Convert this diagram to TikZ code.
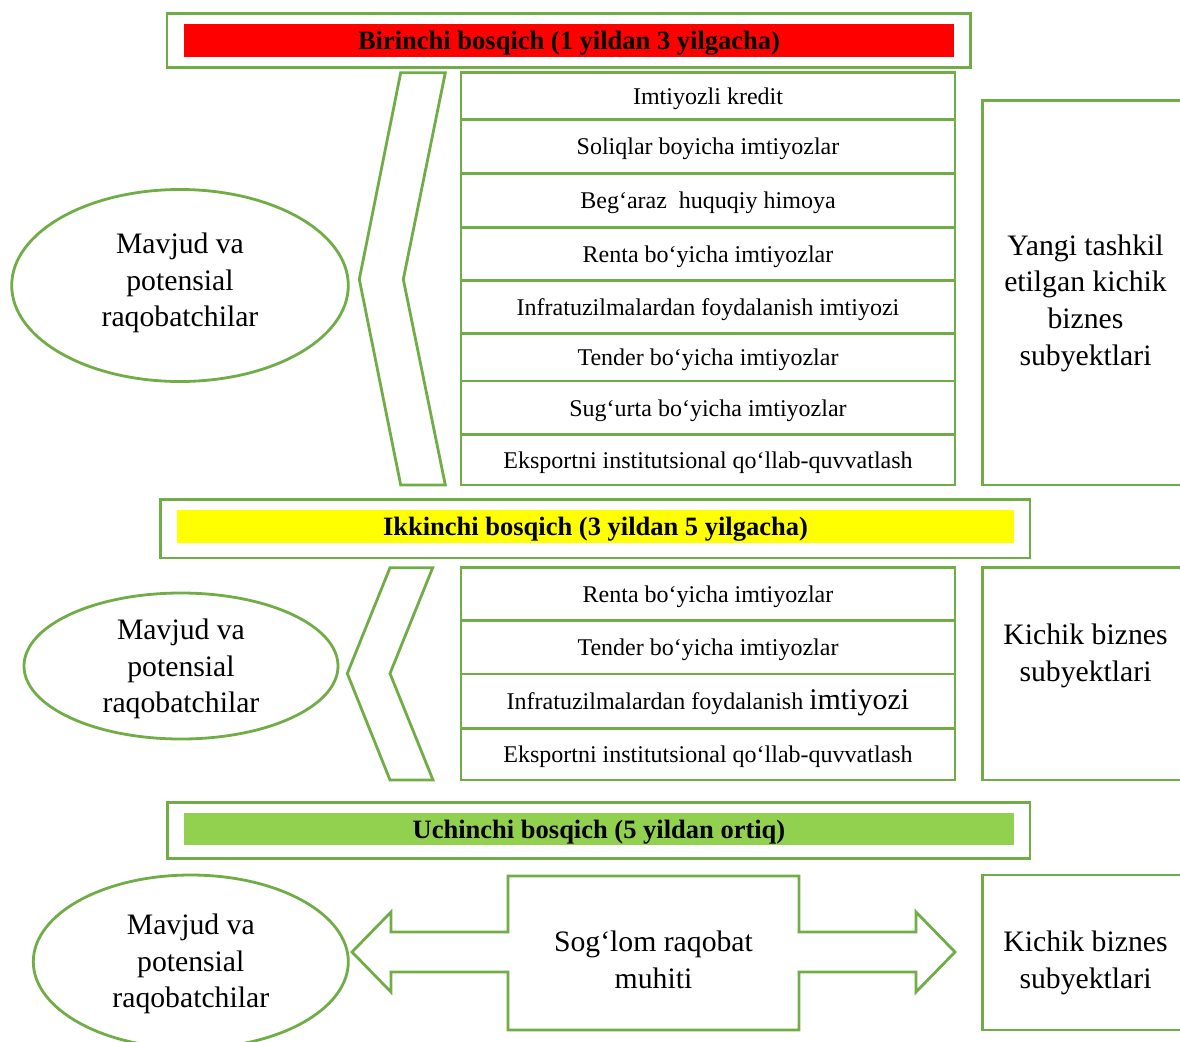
\documentclass[tikz,border=0pt]{standalone}
\usepackage{fontspec}
\setmainfont{Liberation Serif}
\usetikzlibrary{shapes.geometric}

\definecolor{linegreen}{RGB}{112,173,71}
\definecolor{barred}{RGB}{255,0,0}
\definecolor{baryellow}{RGB}{255,255,0}
\definecolor{bargreen}{RGB}{146,208,80}

\tikzset{
  frame/.style={draw=linegreen, line width=2.8pt},
  row/.style={frame, minimum width=494pt, inner sep=0pt, text height=19pt, text depth=2pt, font=\fontsize{24}{28}\selectfont},
  oval/.style={frame, ellipse, inner sep=0pt},
  bigtxt/.style={align=center, inner sep=0pt, font=\fontsize{29.7}{36.7}\selectfont},
  sidebox/.style={frame, minimum width=205.6pt, inner sep=0pt},
  headtxt/.style={inner sep=0pt, font=\bfseries\fontsize{26.5}{30}\selectfont}
}

\begin{document}
\begin{tikzpicture}[x=1pt, y=-1pt]
\useasboundingbox (0, 0) rectangle (1180, 1041);

\draw [frame] (167, 13.3) rectangle (970.5, 67.5);
\fill [barred] (184, 24) rectangle (953.5, 56.8);
\node [headtxt] (h1) at (569, 43) {Birinchi bosqich (1 yildan 3 yilgacha)};

\draw [frame] (400.7, 72.7) -- (445.3, 72.7) -- (403.3, 279.3) -- (445.3, 485) -- (400.7, 485) -- (359.3, 279.3) -- cycle;

\node [oval, minimum width=336.6pt, minimum height=192pt] (e1) at (180, 285.5) {};
\node [bigtxt] (e1t) at (180, 283) {Mavjud va\\potensial\\raqobatchilar};

\node [row, minimum height=46.6pt] (a1) at (708, 96) {Imtiyozli kredit};
\node [row, minimum height=54pt] (a2) at (708, 146.3) {Soliqlar boyicha imtiyozlar};
\node [row, minimum height=54pt] (a3) at (708, 200.3) {Beg‘araz\ \ huquqiy himoya};
\node [row, minimum height=53.4pt] (a4) at (708, 254) {Renta bo‘yicha imtiyozlar};
\node [row, minimum height=52.6pt] (a5) at (708, 307) {Infratuzilmalardan foydalanish imtiyozi};
\node [row, minimum height=47.7pt] (a6) at (708, 357.2) {Tender bo‘yicha imtiyozlar};
\node [row, minimum height=53.3pt] (a7) at (708, 407.7) {Sug‘urta bo‘yicha imtiyozlar};
\node [row, minimum height=50.7pt] (a8) at (708, 459.7) {Eksportni institutsional qo‘llab-quvvatlash};

\node [sidebox, minimum height=384.3pt] (s1) at (1085.5, 292.85) {};
\node [bigtxt] (s1t) at (1085.5, 303) {Yangi tashkil\\etilgan kichik\\biznes\\subyektlari};

\draw [frame] (160.3, 499.3) rectangle (1030, 558);
\fill [baryellow] (177, 510) rectangle (1014, 542.7);
\node [headtxt] (h2) at (595.5, 529) {Ikkinchi bosqich (3 yildan 5 yilgacha)};

\draw [frame] (390, 567.7) -- (432.7, 567.7) -- (390, 673.5) -- (433, 780) -- (390, 780) -- (347.3, 673.5) -- cycle;

\node [oval, minimum width=314pt, minimum height=146pt] (e2) at (181, 666) {};
\node [bigtxt] (e2t) at (181, 669) {Mavjud va\\potensial\\raqobatchilar};

\node [row, minimum height=53pt] (b1) at (708, 594.2) {Renta bo‘yicha imtiyozlar};
\node [row, minimum height=53.3pt] (b2) at (708, 647.3) {Tender bo‘yicha imtiyozlar};
\node [row, minimum height=54.3pt] (b3) at (708, 701.2) {Infratuzilmalardan foydalanish {\fontsize{30}{36}\selectfont imtiyozi}};
\node [row, minimum height=51.7pt] (b4) at (708, 754.2) {Eksportni institutsional qo‘llab-quvvatlash};

\node [sidebox, minimum height=212.3pt] (s2) at (1085.5, 673.85) {};
\node [bigtxt] (s2t) at (1085.5, 656) {Kichik biznes\\subyektlari};

\draw [frame] (167.2, 802.3) rectangle (1030, 858.8);
\fill [bargreen] (184.4, 813.3) rectangle (1014, 845.3);
\node [headtxt] (h3) at (599, 831.8) {Uchinchi bosqich (5 yildan ortiq)};

\node [oval, minimum width=315pt, minimum height=173.4pt] (e3) at (190.8, 961.7) {};
\node [bigtxt] (e3t) at (190.8, 964) {Mavjud va\\potensial\\raqobatchilar};

\draw [frame] (352, 952) -- (391, 912) -- (391, 932) -- (508, 932) -- (508, 876) -- (799, 876) -- (799, 932) -- (916, 932) -- (916, 912) -- (955, 952) -- (916, 992) -- (916, 972) -- (799, 972) -- (799, 1030) -- (508, 1030) -- (508, 972) -- (391, 972) -- (391, 992) -- cycle;
\node [bigtxt] (m1) at (653.5, 959.5) {Sog‘lom raqobat\\muhiti};

\node [sidebox, minimum height=155pt] (s3) at (1085.5, 952.5) {};
\node [bigtxt] (s3t) at (1085.5, 963) {Kichik biznes\\subyektlari};
\end{tikzpicture}
\end{document}
